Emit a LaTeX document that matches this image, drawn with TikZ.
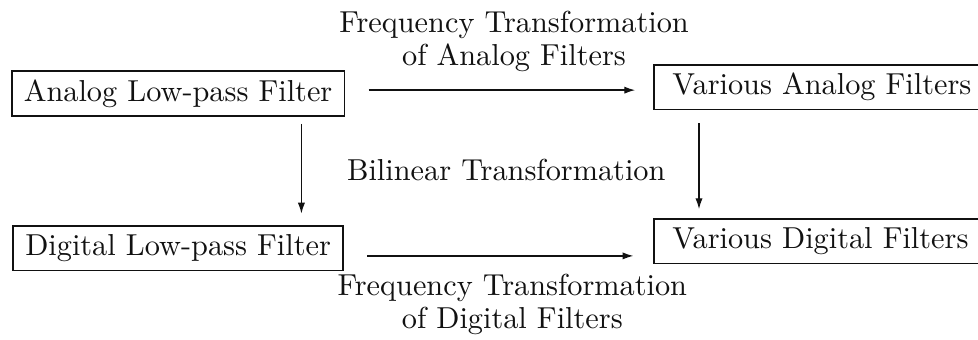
\documentclass[tikz,border=0pt]{standalone}
\usepackage{tikz}
\usetikzlibrary{arrows.meta,calc}
\definecolor{ink}{HTML}{111111}
\tikzset{
  >={Latex[length=3.6pt,width=2.4pt]},
  filt/.style={draw=ink,line width=.6pt,inner xsep=4pt,inner ysep=2.5pt,minimum height=.52cm,text=ink},
  flow/.style={->,line width=.45pt,color=ink},
  note/.style={align=center,text=ink,font=\fontsize{10}{10.6}\selectfont},
}

\begin{document}
\begin{tikzpicture}[x=1cm,y=1cm]
  \useasboundingbox (0,0) rectangle (11.34,-3.94);
  \node[filt] (alp) at (2.065,-1.085) {Analog Low-pass Filter};
  \node[filt] (dlp) at (2.065,-2.877) {Digital Low-pass Filter};
  \node[filt,inner xsep=6pt,anchor=west] (vaf) at (7.575,-1.009) {Various Analog Filters};
  \node[filt,inner xsep=6pt,anchor=west] (vdf) at (7.575,-2.796) {Various Digital Filters};

  \draw[flow,shorten <=.27cm,shorten >=.21cm]
    ([yshift=.4mm]alp.east) -- ([yshift=.4mm]alp.east -| vaf.west);
  \draw[flow,shorten <=.27cm,shorten >=.23cm]
    ([yshift=-.9mm]dlp.east) -- ([yshift=-.9mm]dlp.east -| vdf.west);
  \draw[flow,shorten <=.08cm,shorten >=.13cm]
    ([xshift=1.43cm]alp.south) -- ([xshift=1.43cm]dlp.north);
  \draw[flow,shorten <=.15cm,shorten >=.1cm]
    ([xshift=.53cm]vaf.south west) -- ([xshift=.53cm]vdf.north west);

  \node[note] (fta) at (5.96,-.48) {Frequency Transformation\\of Analog Filters};
  \node[note] (bil) at (5.87,-1.97) {Bilinear Transformation};
  \node[note] (ftd) at (5.94,-3.53) {Frequency Transformation\\of Digital Filters};
\end{tikzpicture}
\end{document}
